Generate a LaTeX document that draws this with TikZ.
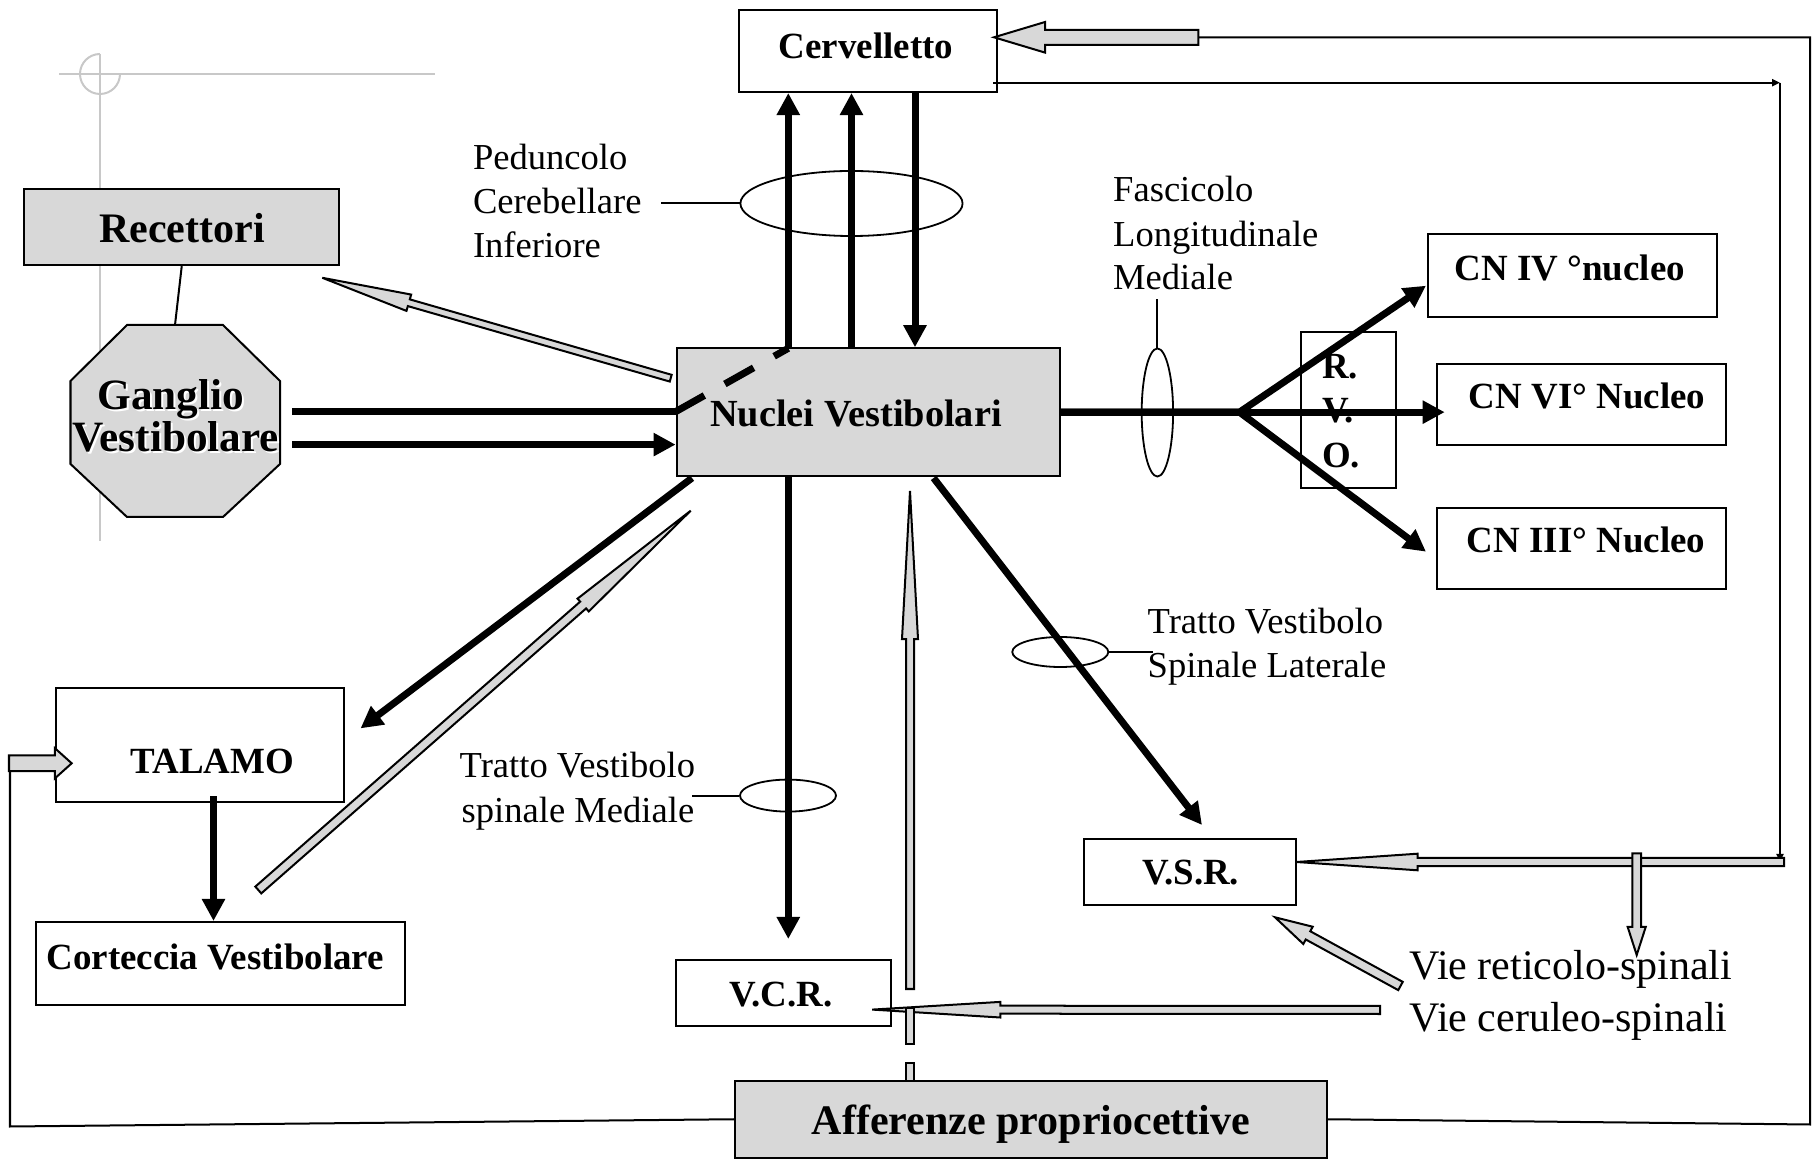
\documentclass[tikz,border=0pt]{standalone}
\usepackage{fontspec}
\setmainfont{Liberation Serif}
\usetikzlibrary{arrows.meta,calc,shapes.geometric}
\definecolor{fillgray}{HTML}{D8D8D8}
\definecolor{guidegray}{HTML}{C8C8C8}
\tikzset{
  bx/.style={draw, line width=0.02cm, inner sep=0pt},
  gbx/.style={bx, fill=fillgray},
  thinln/.style={line width=0.02cm},
  tk/.style={line width=0.07cm, line join=round, -{Triangle[length=0.22cm,width=0.22cm]}},
  tkl/.style={line width=0.07cm},
  blk/.style={fill=fillgray, draw=black, line width=0.02cm, line join=miter},
  ell/.style={draw, ellipse, line width=0.018cm, inner sep=0pt},
  btx/.style={font=\fontsize{10.5}{12}\selectfont\bfseries, anchor=base, inner sep=0pt},
  bigtx/.style={font=\fontsize{11.95}{14}\selectfont\bfseries, anchor=base, inner sep=0pt},
  gtx/.style={font=\fontsize{12.3}{14}\selectfont\bfseries, anchor=base, inner sep=0pt},
  lbl/.style={font=\fontsize{10.4}{12}\selectfont, anchor=base west, inner sep=0pt},
  viet/.style={font=\fontsize{11.95}{14}\selectfont, anchor=base west, inner sep=0pt},
  smalltip/.style={line width=0.02cm, -{Triangle[length=0.08cm,width=0.07cm]}},
}
\newcommand\blkarrow[5]{%
  \coordinate (bkB) at ($(#2)!#5!(#1)$);
  \filldraw[blk] ($(#1)!#3!90:(#2)$) -- ($(bkB)!#3!-90:(#1)$) -- ($(bkB)!#4!-90:(#1)$) -- (#2) -- ($(bkB)!#4!90:(#1)$) -- ($(bkB)!#3!90:(#1)$) -- ($(#1)!#3!-90:(#2)$) -- cycle;%
}
\begin{document}
\begin{tikzpicture}[x=0.01cm, y=-0.01cm]
\useasboundingbox (0,0) rectangle (1820,1167);

% guide lines
\draw[guidegray, line width=0.02cm] (59,74) -- (435,74);
\draw[guidegray, line width=0.02cm] (100,54) -- (100,541);
\draw[guidegray, line width=0.02cm] (100,54) arc[start angle=270, end angle=0, radius=20];

% boxes
\node[bx, minimum width=2.572cm, minimum height=0.82cm] (cerv) at (868.1,51) {};
\node[btx] (cervT) at (866,59) {Cervelletto};

\node[gbx, minimum width=3.145cm, minimum height=0.764cm] (rec) at (181.75,226.8) {};
\node[bigtx] (recT) at (182,242.5) {Recettori};

% octagon
\coordinate (gtop) at (175,325);
\filldraw[fill=fillgray, line width=0.02cm] (127,325) -- (223,325) -- (280,381) -- (280,464) -- (223,517) -- (127,517) -- (70.5,464) -- (70.5,381) -- cycle;
\node[inner sep=0pt] (gang) at (175.25,421) {};
\node[gtx, white] at (172.8,411.9) {Ganglio};
\node[gtx] (gangT1) at (170.8,410) {Ganglio};
\node[gtx, white] at (177.8,453.6) {Vestibolare};
\node[gtx] (gangT2) at (175.8,451.7) {Vestibolare};
\draw[thinln] (rec.south) -- (gtop);

\node[gbx, minimum width=3.833cm, minimum height=1.277cm] (nuc) at (868.35,412.15) {};

\node[bx, minimum width=0.953cm, minimum height=1.555cm] (rvo) at (1348.35,409.75) {};
\node[bx, minimum width=2.89cm, minimum height=0.828cm] (cn4) at (1572.5,275.4) {};
\node[btx] (cn4T) at (1569.8,280.3) {CN IV °nucleo};
\node[bx, minimum width=2.89cm, minimum height=0.81cm] (cn6) at (1581.5,404.1) {};
\node[btx] (cn6T) at (1587,408.8) {CN VI° Nucleo};
\node[bx, minimum width=2.89cm, minimum height=0.805cm] (cn3) at (1581.5,548.25) {};
\node[btx] (cn3T) at (1586,553) {CN III° Nucleo};

\node[bx, minimum width=2.887cm, minimum height=1.138cm] (tal) at (200,744.9) {};
\node[btx] (talT) at (212.4,773.7) {TALAMO};
\node[bx, minimum width=3.687cm, minimum height=0.83cm] (cort) at (220.35,963.5) {};
\node[btx] (cortT) at (215.2,969.7) {Corteccia Vestibolare};
\node[bx, minimum width=2.15cm, minimum height=0.66cm] (vcr) at (783.5,993) {};
\node[btx] (vcrT) at (781,1006.9) {V.C.R.};
\node[bx, minimum width=2.12cm, minimum height=0.66cm] (vsr) at (1190,872) {};
\node[btx] (vsrT) at (1190.8,885) {V.S.R.};
\node[gbx, minimum width=5.915cm, minimum height=0.765cm] (aff) at (1030.75,1119.25) {};
\node[bigtx] (affT) at (1031,1134.5) {Afferenze propriocettive};

% ellipses and labels
\node[ell, minimum width=2.22cm, minimum height=0.65cm] (eP) at (851.5,203.5) {};
\coordinate (ePl) at (661,203.5);
\draw[thinln] (eP.west) -- (ePl);
\node[lbl] (l1a) at (472.3,169.6) {Peduncolo};
\node[lbl] (l1b) at (472.3,214) {Cerebellare};
\node[lbl] (l1c) at (472.3,257.8) {Inferiore};

\node[ell, minimum width=0.314cm, minimum height=1.28cm] (eF) at (1157.4,412.5) {};
\coordinate (eFl) at (1157.4,299);
\draw[thinln] (eF.north) -- (eFl);
\node[lbl] (l2a) at (1112.5,201.7) {Fascicolo};
\node[lbl] (l2b) at (1112.5,246.3) {Longitudinale};
\node[lbl] (l2c) at (1112.5,290) {Mediale};

\node[ell, minimum width=0.96cm, minimum height=0.32cm] (eM) at (788,795.6) {};
\coordinate (eMl) at (691.6,795.6);
\draw[thinln] (eM.west) -- (eMl);
\node[lbl] (l3a) at (459,778) {Tratto Vestibolo};
\node[lbl] (l3b) at (461,823) {spinale Mediale};

\node[ell, minimum width=0.96cm, minimum height=0.30cm] (eL) at (1060.3,652) {};
\coordinate (eLl) at (1153,652);
\draw[thinln] (eL.east) -- (eLl);
\node[lbl] (l4a) at (1147,633.5) {Tratto Vestibolo};
\node[lbl] (l4b) at (1147,678) {Spinale Laterale};

\node[viet] (v1) at (1408.5,980) {Vie reticolo-spinali};
\node[viet] (v2) at (1408.5,1031.6) {Vie ceruleo-spinali};

% thick arrows
\coordinate (g1) at (292,411.7);
\coordinate (g2) at (292,444.6);
\draw[tkl] (g1) -- (nuc.west |- g1);
\draw[tk] (g2) -- (nuc.west |- g2);
\coordinate (u1) at (788.3,348.3);
\draw[tkl, dash pattern=on 0.33cm off 0.235cm] (nuc.west |- g1) -- (u1);
\draw[tk] (u1) -- (u1 |- cerv.south);
\coordinate (u2) at (851.5,348.3);
\draw[tk] (u2) -- (u2 |- cerv.south);
\coordinate (d1) at (915,92);
\draw[tk] (d1) -- (d1 |- nuc.north);

\coordinate (br) at (1239.5,412.15);
\coordinate (t4) at (1426,285.7);
\coordinate (t6) at (1444.7,412.15);
\coordinate (t3) at (1426,551.7);
\draw[tk] (nuc.east) -- (br) -- (t4);
\draw[tk] (nuc.east) -- (br) -- (t6);
\draw[tk] (nuc.east) -- (br) -- (t3);

\coordinate (ntS) at (692,478);
\coordinate (ntE) at (360.5,728.4);
\draw[tk] (ntS) -- (ntE);
\coordinate (tc) at (213.5,796.5);
\draw[tk] (tc) -- (tc |- cort.north);
\coordinate (dv) at (788.3,476);
\coordinate (dvE) at (788.3,939);
\draw[tk] (dv) -- (dvE);
\coordinate (nvS) at (933.6,478);
\coordinate (nvE) at (1202,825);
\draw[tk] (nvS) -- (nvE);

% thin loop lines
\coordinate (cA) at (1198.3,37.3);
\coordinate (cB) at (994,37.3);
\coordinate (rt) at (1810,37.3);
\coordinate (rb) at (1810,1124.5);
\draw[thinln] (cA) -- (rt) -- (rb) -- (aff.east);
\coordinate (c2) at (993,82.7);
\coordinate (c3) at (1780,82.7);
\coordinate (c4) at (1780,862);
\draw[smalltip] (c2) -- (c3);
\draw[smalltip] (c3) -- (c4);
\coordinate (lb) at (10,1126.5);
\coordinate (lt) at (10,763.3);
\draw[thinln] (aff.west) -- (lb) -- (lt);

% block arrows
\blkarrow{cA}{cB}{0.075cm}{0.153cm}{0.51cm}
\coordinate (tA) at (9,763.3);
\coordinate (tB) at (71.7,763.3);
\blkarrow{tA}{tB}{0.078cm}{0.15cm}{0.167cm}
\coordinate (recA) at (670.7,378.2);
\coordinate (recB) at (322.3,277.8);
\blkarrow{recA}{recB}{0.035cm}{0.085cm}{0.9cm}
\coordinate (coA) at (258.3,890);
\coordinate (coB) at (690.7,510.7);
\blkarrow{coA}{coB}{0.045cm}{0.085cm}{1.43cm}
\coordinate (vsA) at (1784,862);
\coordinate (vsB) at (1296.6,862);
\blkarrow{vsA}{vsB}{0.042cm}{0.083cm}{1.21cm}
\coordinate (dnA) at (1636.7,853.3);
\coordinate (dnB) at (1636.7,955);
\blkarrow{dnA}{dnB}{0.043cm}{0.09cm}{0.28cm}
\coordinate (viA) at (1400.5,986);
\coordinate (viB) at (1275,917.3);
\blkarrow{viA}{viB}{0.047cm}{0.098cm}{0.376cm}
\coordinate (vcA) at (1380,1010);
\coordinate (vcB) at (872.3,1009.6);
\blkarrow{vcA}{vcB}{0.04cm}{0.078cm}{1.28cm}
\coordinate (afA) at (910,989);
\coordinate (afB) at (910,491);
\blkarrow{afA}{afB}{0.04cm}{0.08cm}{1.48cm}
\filldraw[blk] (906,1007.7) rectangle (914,1044);
\filldraw[blk] (906,1062.7) rectangle (914,1081);

% text drawn over lines
\node[btx] (nucT) at (856,426.5) {\fontsize{10.9}{13}\selectfont Nuclei Vestibolari};
\node[btx, anchor=base west] (rvoR) at (1321.4,378.5) {R.};
\node[btx, anchor=base west] (rvoV) at (1321.4,423) {V.};
\node[btx, anchor=base west] (rvoO) at (1321.4,467.7) {O.};
\end{tikzpicture}
\end{document}
